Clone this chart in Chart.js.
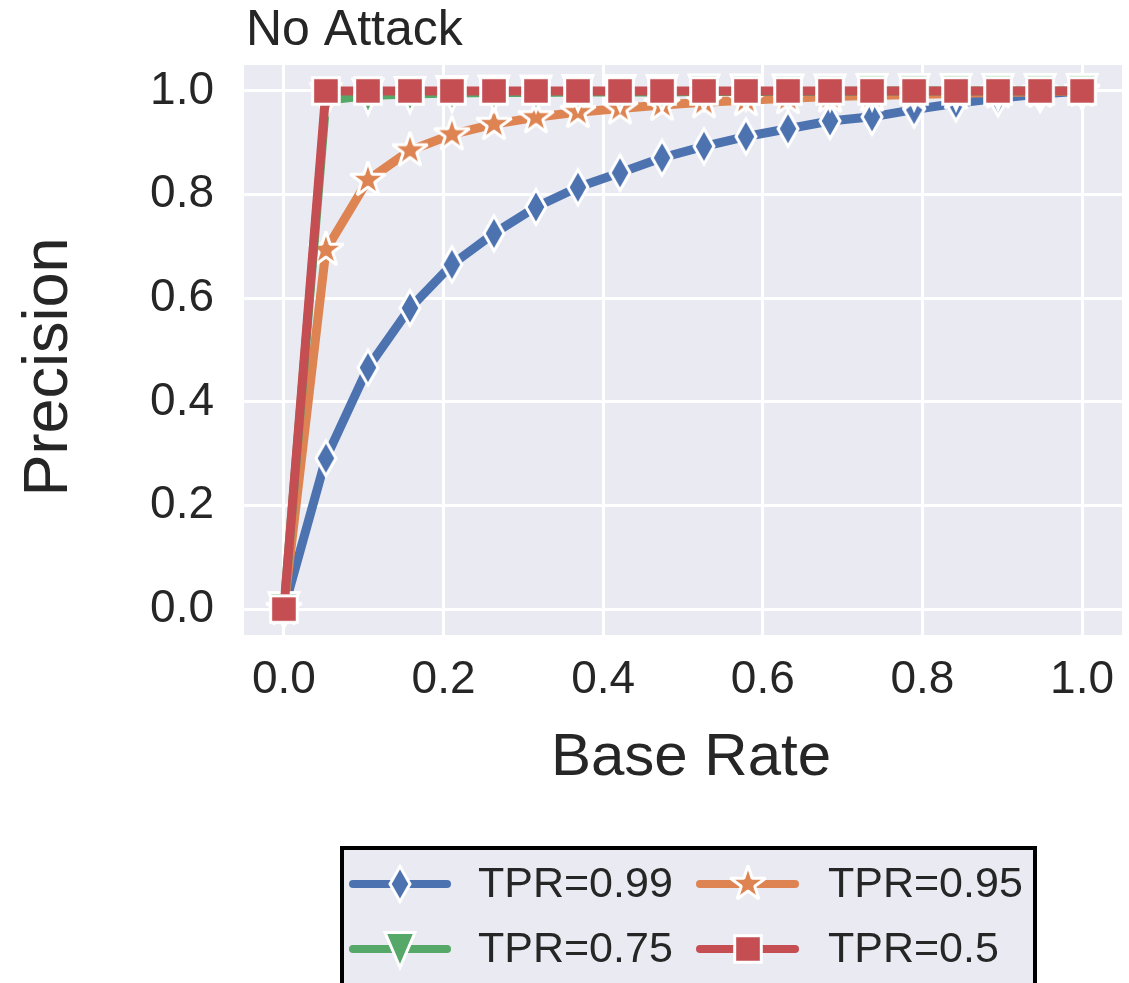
<!DOCTYPE html>
<html><head><meta charset="utf-8">
<script src="https://cdn.jsdelivr.net/npm/chart.js@4.4.0/dist/chart.umd.min.js"></script>
<style>html,body{margin:0;padding:0;background:#fff;}canvas{display:block;}</style>
</head><body>
<canvas id="c" width="1129" height="983"></canvas>
<script>
// ---- data ----
const baseRate = [0, 0.0526, 0.1053, 0.1579, 0.2105, 0.2632, 0.3158, 0.3684, 0.4211, 0.4737,
                  0.5263, 0.5789, 0.6316, 0.6842, 0.7368, 0.7895, 0.8421, 0.8947, 0.9474, 1.0];
const precTPR099 = [0, 0.291, 0.466, 0.581, 0.665, 0.725, 0.776, 0.814, 0.842, 0.871,
                    0.893, 0.912, 0.927, 0.942, 0.950, 0.964, 0.976, 0.986, 0.994, 1.0];
const precTPR095 = [0, 0.693, 0.828, 0.885, 0.916, 0.936, 0.949, 0.959, 0.966, 0.973,
                    0.978, 0.982, 0.986, 0.989, 0.991, 0.993, 0.995, 0.997, 0.998, 1.0];
const precTPR075 = [0, 0.982, 0.991, 0.994, 0.996, 0.997, 0.997, 0.998, 0.998, 0.998,
                    0.999, 0.999, 0.999, 0.999, 1.0, 1.0, 1.0, 1.0, 1.0, 1.0];
const precTPR050 = [0, 1.0, 1.0, 1.0, 1.0, 1.0, 1.0, 1.0, 1.0, 1.0,
                    1.0, 1.0, 1.0, 1.0, 1.0, 1.0, 1.0, 1.0, 1.0, 1.0];
const seriesLabels = ['TPR=0.99', 'TPR=0.95', 'TPR=0.75', 'TPR=0.5'];
const xTickValues = [0, 0.2, 0.4, 0.6, 0.8, 1.0];
const xTickLabels = ['0.0', '0.2', '0.4', '0.6', '0.8', '1.0'];
const yTickValues = [0, 0.2, 0.4, 0.6, 0.8, 1.0];
const yTickLabels = ['0.0', '0.2', '0.4', '0.6', '0.8', '1.0'];
const chartTitle = 'No Attack';
const xAxisTitle = 'Base Rate';
const yAxisTitle = 'Precision';

// ---- styling ----
const FONT = "'Liberation Sans', Arial, Helvetica, sans-serif";
const TEXT = '#262626';
const BLUE = '#4C72B0', ORANGE = '#DD8452', GREEN = '#55A868', RED = '#C44E52';

function mk(color, join, pathFn) {
  const c = document.createElement('canvas');
  c.width = 56; c.height = 56;
  const g = c.getContext('2d');
  g.translate(28, 28);
  g.beginPath();
  pathFn(g);
  g.closePath();
  g.fillStyle = color;
  g.fill();
  g.lineWidth = 3;
  g.lineJoin = join;
  g.miterLimit = 10;
  g.strokeStyle = '#ffffff';
  g.stroke();
  return c;
}
const diamondMarker = mk(BLUE, 'miter', g => { g.moveTo(0, -17.5); g.lineTo(10, 0); g.lineTo(0, 17.5); g.lineTo(-10, 0); });
const starMarker = mk(ORANGE, 'bevel', g => {
  const R = 18.5, r = R * 0.381966;
  for (let k = 0; k < 10; k++) {
    const a = -Math.PI / 2 + k * Math.PI / 5;
    const rad = k % 2 === 0 ? R : r;
    const px = rad * Math.cos(a), py = rad * Math.sin(a);
    if (k === 0) g.moveTo(px, py); else g.lineTo(px, py);
  }
});
const triMarker = mk(GREEN, 'miter', g => { g.moveTo(0, 18.5); g.lineTo(-15, -16.5); g.lineTo(15, -16.5); });
const squareMarker = mk(RED, 'miter', g => { g.rect(-13.3, -13.3, 26.6, 26.6); });

function pts(ys) { return baseRate.map((x, i) => ({ x: x, y: ys[i] })); }
function ds(label, ys, color, marker, order) {
  return {
    label: label, data: pts(ys), borderColor: color, backgroundColor: color,
    borderWidth: 9, borderCapStyle: 'round', borderJoinStyle: 'round', tension: 0,
    pointStyle: marker, pointRadius: 12, pointHoverRadius: 12, order: order, clip: false
  };
}

const bgPlugin = {
  id: 'bg',
  beforeDraw(chart) {
    const { ctx, chartArea: a } = chart;
    ctx.save();
    ctx.fillStyle = '#ffffff';
    ctx.fillRect(0, 0, chart.width, chart.height);
    ctx.fillStyle = '#EAEAF2';
    ctx.fillRect(a.left, a.top, a.right - a.left, a.bottom - a.top);
    ctx.restore();
  }
};

const textPlugin = {
  id: 'texts',
  afterDraw(chart) {
    const ctx = chart.ctx;
    ctx.save();
    ctx.fillStyle = TEXT;
    ctx.textBaseline = 'alphabetic';
    ctx.font = '50px ' + FONT;
    ctx.textAlign = 'left';
    ctx.fillText(chartTitle, chart.chartArea.left + 2, 45);
    ctx.font = '60px ' + FONT;
    ctx.textAlign = 'center';
    ctx.fillText(xAxisTitle, 691, 775);
    ctx.save();
    ctx.translate(67, 367);
    ctx.rotate(-Math.PI / 2);
    ctx.font = '63px ' + FONT;
    ctx.fillText(yAxisTitle, 0, 0);
    ctx.restore();
    ctx.restore();
  }
};

const legendPlugin = {
  id: 'boxLegend',
  afterDraw(chart) {
    const ctx = chart.ctx;
    ctx.save();
    ctx.fillStyle = '#EAEAF2';
    ctx.fillRect(342, 848, 693, 160);
    ctx.strokeStyle = '#000000';
    ctx.lineWidth = 4;
    ctx.strokeRect(342, 848, 693, 160);
    const lineX = [[353, 447], [700, 795]];
    const markX = [400, 748];
    const textX = [478, 828];
    const rowY = [884, 949];
    chart.data.datasets.forEach((d, i) => {
      const col = i % 2, row = Math.floor(i / 2);
      const y = rowY[row];
      ctx.beginPath();
      ctx.strokeStyle = d.borderColor;
      ctx.lineWidth = 8;
      ctx.lineCap = 'round';
      ctx.moveTo(lineX[col][0], y);
      ctx.lineTo(lineX[col][1], y);
      ctx.stroke();
      const m = d.pointStyle;
      ctx.drawImage(m, markX[col] - m.width / 2, y - m.height / 2);
      ctx.fillStyle = TEXT;
      ctx.font = '43px ' + FONT;
      ctx.textAlign = 'left';
      ctx.textBaseline = 'middle';
      ctx.fillText(d.label, textX[col], y + 1);
    });
    ctx.restore();
  }
};

new Chart(document.getElementById('c'), {
  type: 'line',
  data: {
    datasets: [
      ds(seriesLabels[0], precTPR099, BLUE, diamondMarker, 4),
      ds(seriesLabels[1], precTPR095, ORANGE, starMarker, 3),
      ds(seriesLabels[2], precTPR075, GREEN, triMarker, 2),
      ds(seriesLabels[3], precTPR050, RED, squareMarker, 1)
    ]
  },
  options: {
    responsive: false, animation: false, devicePixelRatio: 1,
    layout: { autoPadding: false, padding: { left: 0, top: 65, right: 7, bottom: 198 } },
    plugins: { legend: { display: false }, tooltip: { enabled: false }, title: { display: false } },
    scales: {
      x: {
        type: 'linear', min: -0.05, max: 1.05,
        afterFit: s => { s.height = 150; s.paddingLeft = 0; s.paddingRight = 0; },
        afterBuildTicks: s => { s.ticks = xTickValues.map(v => ({ value: v })); },
        ticks: {
          autoSkip: false, maxRotation: 0, minRotation: 0, padding: 18,
          color: TEXT, font: { family: FONT, size: 46 },
          callback: (v, i) => xTickLabels[i]
        },
        grid: { color: '#ffffff', lineWidth: 3, drawTicks: false },
        border: { display: false }
      },
      y: {
        type: 'linear', min: -0.05, max: 1.05,
        afterFit: s => { s.width = 244; s.paddingTop = 0; s.paddingBottom = 0; },
        afterBuildTicks: s => { s.ticks = yTickValues.map(v => ({ value: v })); },
        ticks: {
          autoSkip: false, padding: 30,
          color: TEXT, font: { family: FONT, size: 46 },
          callback: (v, i) => yTickLabels[i]
        },
        grid: { color: '#ffffff', lineWidth: 3, drawTicks: false },
        border: { display: false }
      }
    }
  },
  plugins: [bgPlugin, textPlugin, legendPlugin]
});
</script>
</body></html>
